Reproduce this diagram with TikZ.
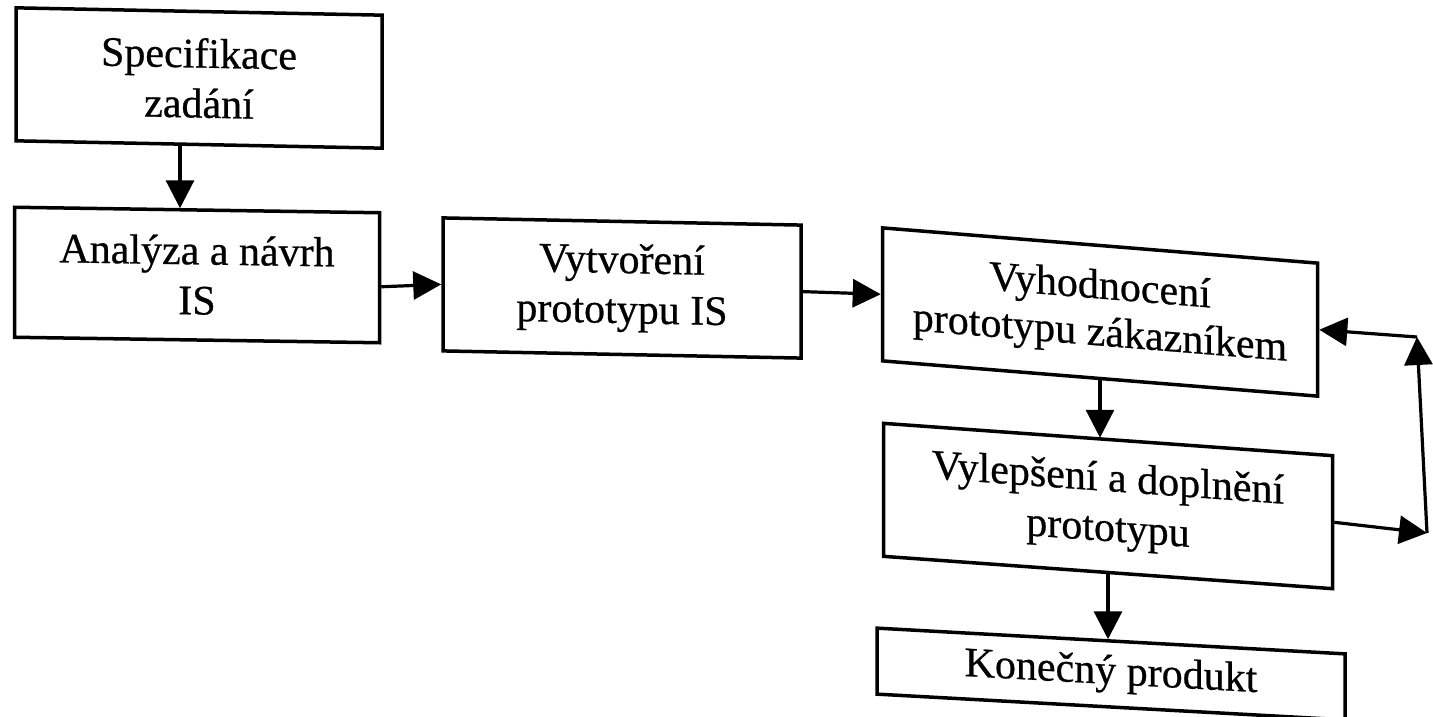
\documentclass[tikz,border=0pt]{standalone}
\usepackage{fontspec}
\setmainfont[FakeBold=0.6]{Liberation Serif}
\usetikzlibrary{arrows.meta}
\begin{document}
\begin{tikzpicture}[x=1pt,y=-1pt,
  box/.style={draw, line width=3.5pt, align=center, inner sep=0pt,
    font=\fontsize{42}{50}\selectfont, minimum height=133pt},
  arr/.style={line width=3.2pt, -{Triangle[length=28pt,width=28pt]}}]
\path[use as bounding box, clip] (0,0) rectangle (1433,717);
\fill[white] (0,0) rectangle (1433,717);
\node[box, minimum width=366pt, yslant=-0.02] (spec) at (199,78) {Specifikace\\zadání};
\node[box, minimum width=365pt, minimum height=130pt, yslant=-0.015] (an) at (197,275) {Analýza a návrh\\IS};
\node[box, minimum width=358pt, yslant=-0.02] (vyt) at (622,288) {Vytvoření\\prototypu IS};
\node[box, minimum width=435pt, yslant=-0.081, font=\fontsize{42}{47}\selectfont] (vyh) at (1100,312) {Vyhodnocení\\prototypu zákazníkem};
\node[box, minimum width=449pt, yslant=-0.072] (vyl) at (1108,506) {Vylepšení a doplnění\\prototypu};
\node[box, minimum width=468pt, minimum height=66pt, yslant=-0.055] (kon) at (1111,674) {Konečný produkt};
\coordinate (c1) at (1427,533);
\coordinate (c2) at (1417,337);
\draw[arr] ([xshift=-19pt]spec.south) -- ([xshift=-17pt]an.north);
\draw[arr] ([yshift=-9pt]an.east) -- (vyt.west);
\draw[arr] (vyt.east) -- (vyh.west);
\draw[arr] (vyh.south) -- (vyl.north -| vyh.south);
\draw[arr] (vyl.south) -- (kon.north -| vyl.south);
\draw[arr] (vyl.east) -- (c1);
\draw[arr] (c1) -- (c2);
\draw[arr] (c2) -- (vyh.east);
\end{tikzpicture}
\end{document}
